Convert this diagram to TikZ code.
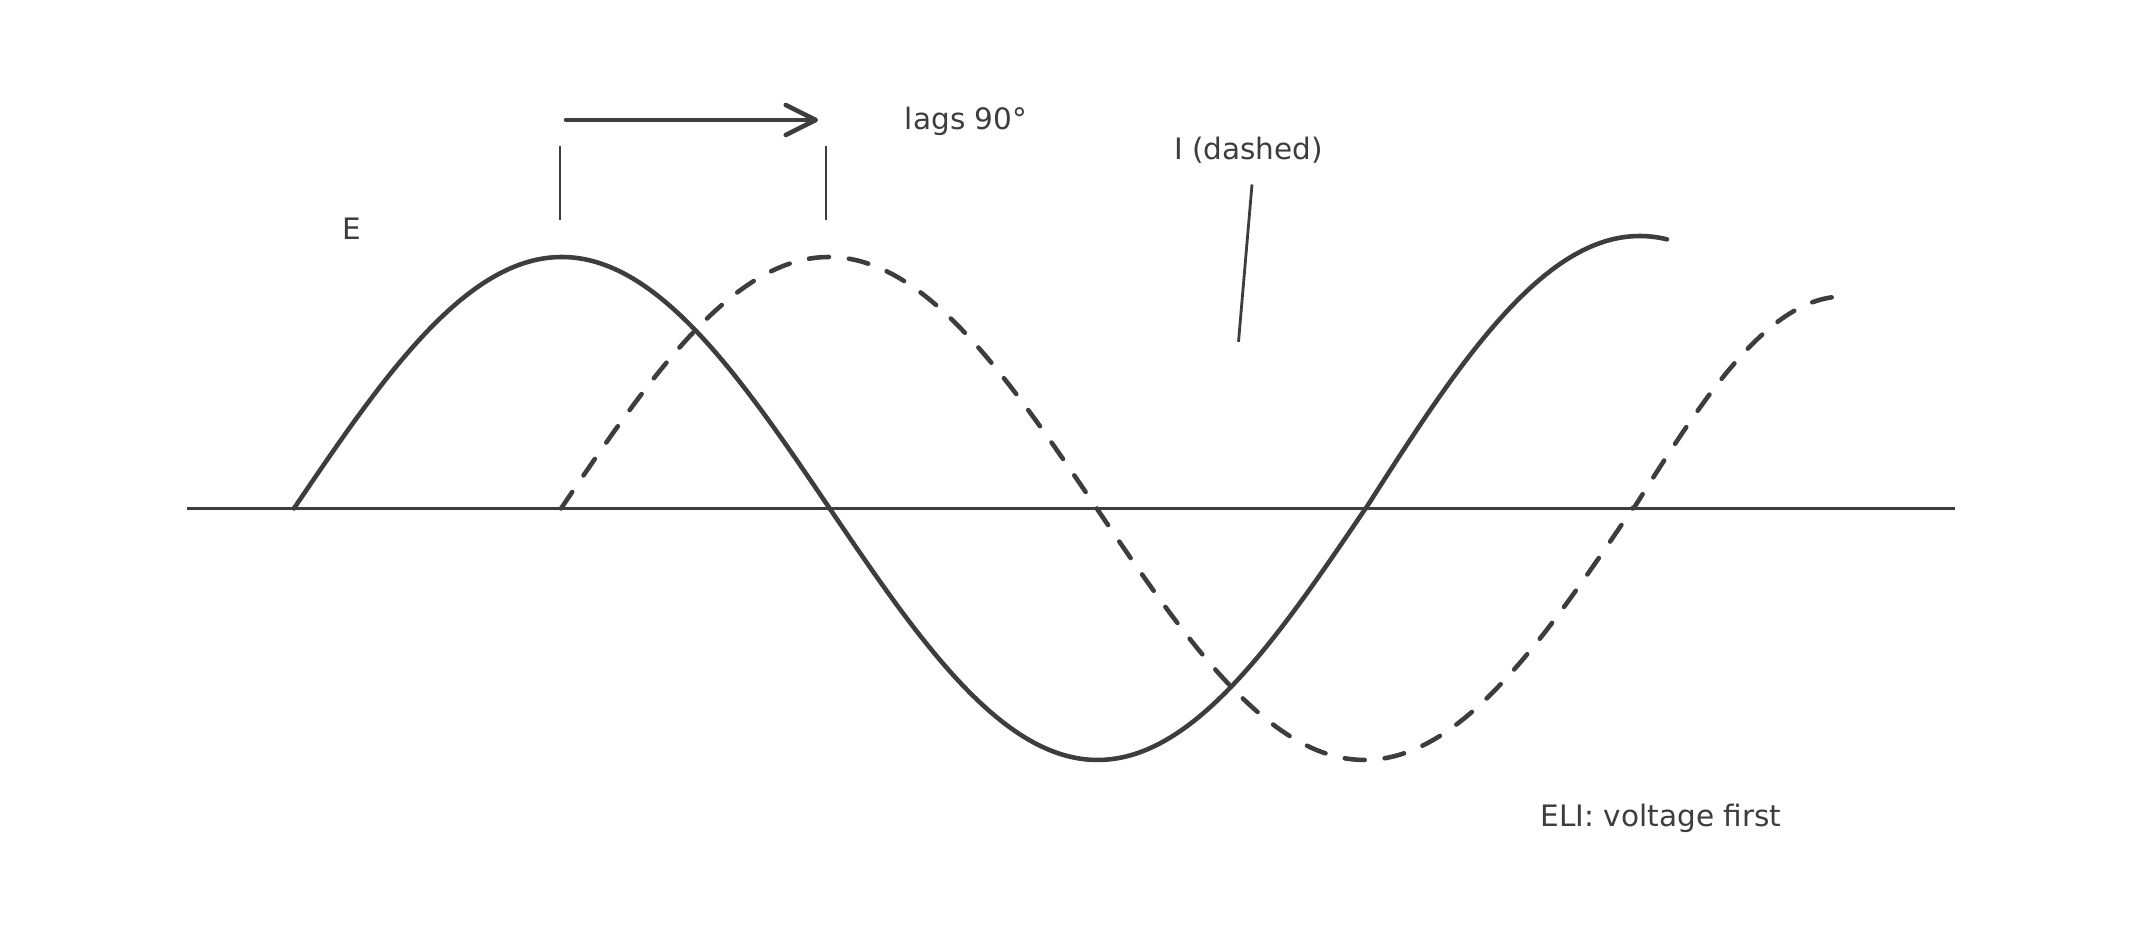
\documentclass[tikz,border=0pt]{standalone}
\usepackage{fontspec}
\setmainfont{DejaVu Sans}
\usetikzlibrary{arrows.meta}

\definecolor{ink}{HTML}{3D3D40}
\tikzset{
  wave/.style={color=ink, line width=1.3pt, line cap=round, line join=round},
  idash/.style={wave, dash pattern=on 0.2cm off 0.2cm},
  thinline/.style={color=ink, line width=0.8pt},
  lbl/.style={text=ink, font=\fontsize{8.4}{10}\selectfont, inner sep=0pt, anchor=base}
}

\begin{document}
\begin{tikzpicture}
        \useasboundingbox (0,0) rectangle (21.33,9.33);

        \pgfmathsetmacro{\ax}{4.245}
        \pgfmathsetmacro{\amp}{2.515}
        \pgfmathsetmacro{\qp}{2.679}

        % time axis
        \draw[thinline] (1.873,\ax) -- (19.548,\ax);

        % E, solid
        \draw[wave] plot[domain=2.939:13.657, samples=140, smooth] (\x,{\ax+\amp*sin((\x-2.939)/\qp*90)})
            -- plot[domain=13.657:16.67, samples=40, smooth] (\x,{\ax+2.725*sin((\x-13.657)/2.74*90)});

        % I, dashed
        \draw[idash] plot[domain=5.61:16.336, samples=140, smooth] (\x,{\ax+\amp*sin((\x-5.61)/\qp*90)})
            -- plot[domain=16.336:18.44, samples=30, smooth] (\x,{\ax+2.12*sin((\x-16.336)/2.1*90)});

        % 90 degree shift
        \coordinate (shiftA) at (5.66,8.13);
        \coordinate (shiftB) at (8.18,8.13);
        \draw[wave, -{Straight Barb[length=0.3cm, width=0.3cm, line cap=round, round]}] (shiftA) -- (shiftB);
        \draw[thinline] (5.60,7.13) -- (5.60,7.87);
        \draw[thinline] (8.26,7.13) -- (8.26,7.87);

        \node[lbl] (elbl) at (3.52,6.93) {E};
        \node[lbl] (lagslbl) at (9.66,8.03) {lags 90°};
        \node[lbl] (ilbl) at (12.485,7.73) {I (dashed)};
        \node[lbl] (elilbl) at (16.61,1.06) {ELI: voltage first};

        \coordinate (itop) at (12.52,7.485);
        \coordinate (ibot) at (12.385,5.912);
        \draw[thinline] (itop) -- (ibot);

\end{tikzpicture}
\end{document}
